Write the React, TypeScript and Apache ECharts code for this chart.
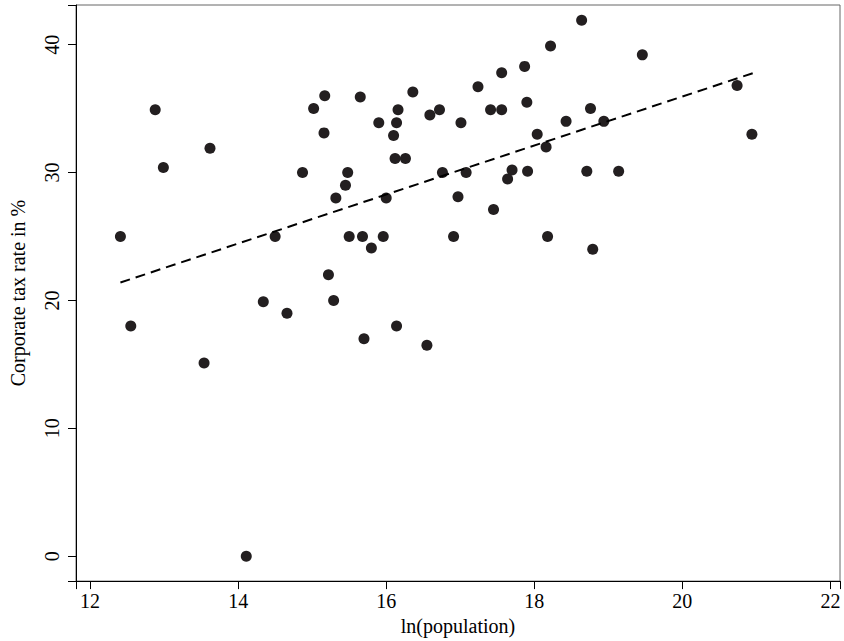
import { useEffect, useRef } from 'react'
import * as echarts from 'echarts'

// ln(population), corporate tax rate (%)
const lnPop = [
  12.41, 12.55, 12.88, 12.99, 13.54, 13.62, 14.11, 14.34, 14.5, 14.66,
  14.87, 15.02, 15.17, 15.16, 15.22, 15.29, 15.32, 15.45, 15.48, 15.5,
  15.7, 15.65, 15.68, 15.8, 15.9, 15.96, 16.0, 16.1, 16.14, 16.16,
  16.12, 16.26, 16.14, 16.36, 16.55, 16.59, 16.72, 16.76, 16.91, 16.97,
  17.01, 17.08, 17.24, 17.41, 17.56, 17.45, 17.56, 17.64, 17.7, 17.87,
  17.9, 17.91, 18.04, 18.16, 18.18, 18.22, 18.43, 18.64, 18.71, 18.76,
  18.79, 18.94, 19.14, 19.46, 20.74, 20.94,
]
const taxRate = [
  25.0, 18.0, 34.9, 30.4, 15.1, 31.9, 0.0, 19.9, 25.0, 19.0,
  30.0, 35.0, 36.0, 33.1, 22.0, 20.0, 28.0, 29.0, 30.0, 25.0,
  17.0, 35.9, 25.0, 24.1, 33.9, 25.0, 28.0, 32.9, 33.9, 34.9,
  31.1, 31.1, 18.0, 36.3, 16.5, 34.5, 34.9, 30.0, 25.0, 28.1,
  33.9, 30.0, 36.7, 34.9, 34.9, 27.1, 37.8, 29.5, 30.2, 38.3,
  35.5, 30.1, 33.0, 32.0, 25.0, 39.9, 34.0, 41.9, 30.1, 35.0,
  24.0, 34.0, 30.1, 39.2, 36.8, 33.0,
]
// fitted line end points
const fitX = [12.41, 20.97]
const fitY = [21.4, 37.8]

const font = 'Liberation Serif'

export default function App() {
  const ref = useRef<HTMLDivElement>(null)

  useEffect(() => {
    if (!ref.current) return
    document.body.style.margin = '0'
    const chart = echarts.init(ref.current, null, { renderer: 'svg' })
    chart.setOption({
      animation: false,
      grid: {
        left: 67, right: 4, top: 5, bottom: 58,
        show: true, borderColor: '#666', borderWidth: 1,
      },
      xAxis: {
        type: 'value', min: 11.81, max: 22.13,
        name: 'ln(population)', nameLocation: 'middle', nameGap: 33,
        nameTextStyle: { fontFamily: font, fontSize: 20, color: '#000' },
        axisLine: { onZero: false, lineStyle: { color: '#000' } },
        axisTick: { show: true, length: 8, lineStyle: { color: '#000' } },
        axisLabel: {
          fontFamily: font, fontSize: 20, color: '#000', margin: 10,
          customValues: [12, 14, 16, 18, 20, 22],
        },
        splitLine: { show: false },
      },
      yAxis: {
        type: 'value', min: -1.95, max: 43.1,
        name: 'Corporate tax rate in %', nameLocation: 'middle', nameGap: 48,
        nameTextStyle: { fontFamily: font, fontSize: 20, color: '#000' },
        axisLine: { onZero: false, lineStyle: { color: '#000' } },
        axisTick: { show: true, length: 8, lineStyle: { color: '#000' } },
        axisLabel: {
          fontFamily: font, fontSize: 20, color: '#000', margin: 14, rotate: 90,
          customValues: [0, 10, 20, 30, 40],
        },
        splitLine: { show: false },
      },
      series: [
        {
          type: 'scatter',
          symbolSize: 11,
          itemStyle: { color: '#231f20', opacity: 1 },
          data: lnPop.map((x, i) => [x, taxRate[i]]),
        },
        {
          type: 'line',
          symbol: 'none',
          lineStyle: { color: '#000', width: 2, type: [10, 6] },
          data: fitX.map((x, i) => [x, fitY[i]]),
        },
      ],
    })
    return () => chart.dispose()
  }, [])

  return <div ref={ref} style={{ width: 844, height: 641 }} />
}
